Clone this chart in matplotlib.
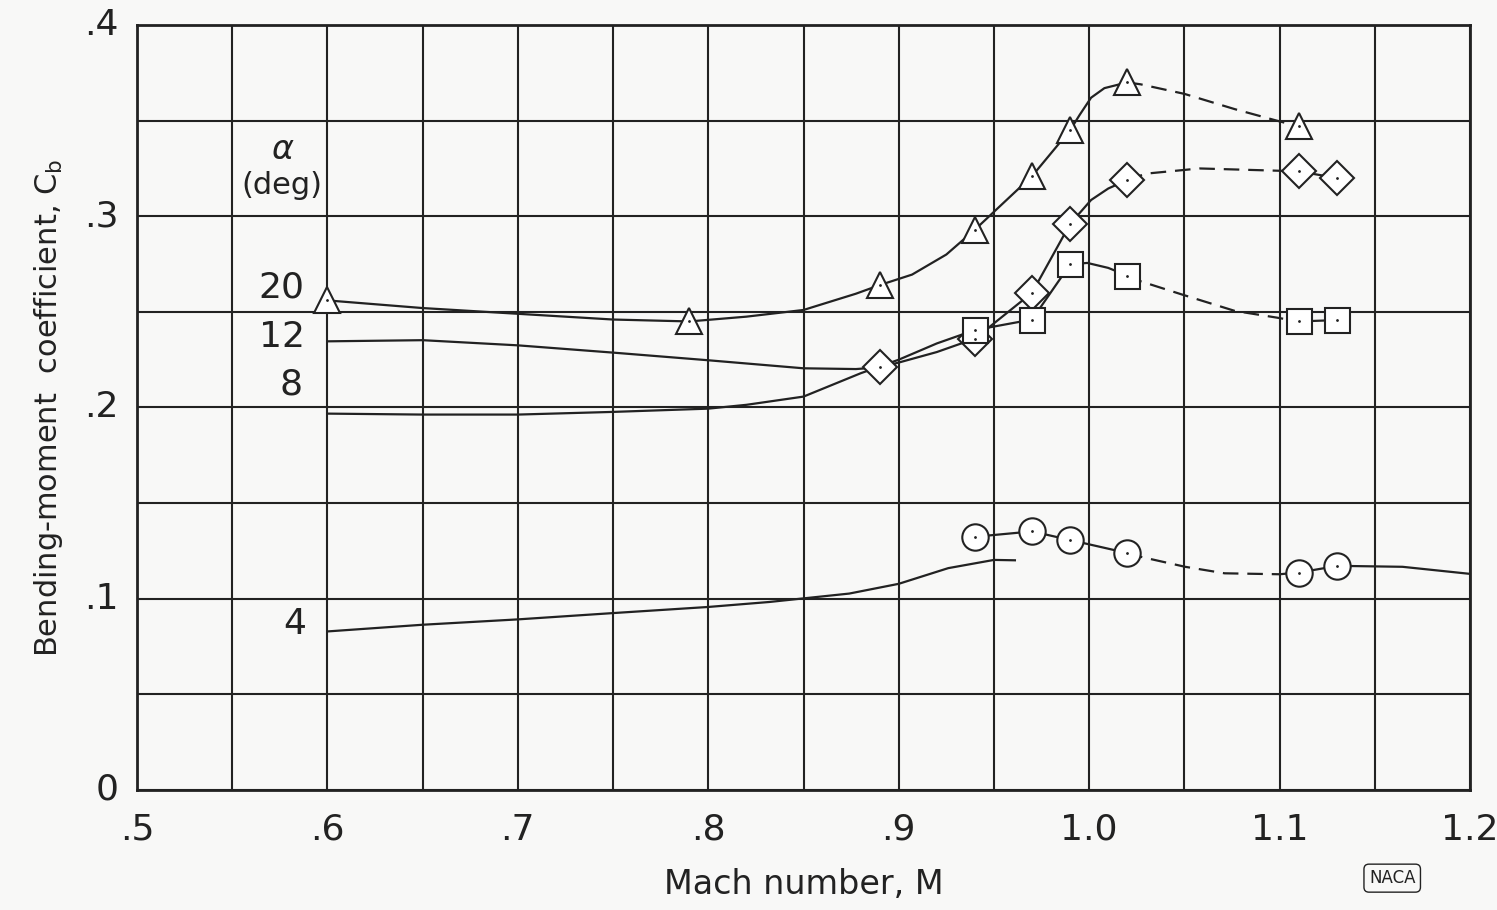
import matplotlib
matplotlib.use("Agg")
import matplotlib.pyplot as plt

# Mach number / bending-moment coefficient
# alpha = 20 deg (triangles)
m20 = [0.6, 0.79, 0.89, 0.94, 0.97, 0.99, 1.02, 1.11]
cb20 = [0.256, 0.245, 0.264, 0.293, 0.321, 0.345, 0.370, 0.347]
m20_line = [0.6, 0.65, 0.70, 0.75, 0.79, 0.82, 0.85, 0.8775, 0.89, 0.907,
            0.925, 0.94, 0.97, 0.99, 0.995, 1.001, 1.008, 1.02]
cb20_line = [0.256, 0.252, 0.249, 0.246, 0.245, 0.2475, 0.251, 0.2595, 0.264,
             0.2695, 0.280, 0.293, 0.321, 0.345, 0.353, 0.362, 0.367, 0.370]
m20_dash = [1.02, 1.027, 1.05, 1.0765, 1.0985, 1.11]
cb20_dash = [0.370, 0.369, 0.364, 0.356, 0.350, 0.347]

# alpha = 12 deg (diamonds)
m12 = [0.89, 0.94, 0.97, 0.99, 1.02, 1.11, 1.13]
cb12 = [0.221, 0.236, 0.260, 0.296, 0.319, 0.3235, 0.320]
m12_line = [0.6, 0.65, 0.7, 0.75, 0.8, 0.85, 0.8775, 0.89, 0.9, 0.92, 0.94,
            0.97, 0.99, 1.001, 1.01, 1.02]
cb12_line = [0.2346, 0.2352, 0.2325, 0.2287, 0.2247, 0.2205, 0.2201, 0.221,
             0.2235, 0.229, 0.236, 0.260, 0.296, 0.3085, 0.3145, 0.319]
m12_dash = [1.02, 1.03, 1.058, 1.11]
cb12_dash = [0.319, 0.3223, 0.325, 0.3235]
m12_end = [1.11, 1.13]
cb12_end = [0.3235, 0.320]

# alpha = 8 deg (squares)
m8 = [0.94, 0.97, 0.99, 1.02, 1.11, 1.13]
cb8 = [0.2405, 0.246, 0.2748, 0.269, 0.245, 0.2457]
m8_line = [0.6, 0.65, 0.7, 0.75, 0.8, 0.82, 0.85, 0.88, 0.9, 0.92, 0.94,
           0.97, 0.99, 0.999, 1.01, 1.02]
cb8_line = [0.1968, 0.1963, 0.1963, 0.1977, 0.1994, 0.2014, 0.2057, 0.2179,
            0.225, 0.2335, 0.2405, 0.246, 0.2748, 0.2756, 0.273, 0.269]
m8_dash = [1.02, 1.027, 1.049, 1.0765, 1.0985, 1.11]
cb8_dash = [0.269, 0.266, 0.259, 0.2505, 0.247, 0.245]
m8_end = [1.11, 1.13]
cb8_end = [0.245, 0.2457]

# alpha = 4 deg (circles)
m4 = [0.94, 0.97, 0.99, 1.02, 1.11, 1.13]
cb4 = [0.1324, 0.1352, 0.1307, 0.1239, 0.1137, 0.1171]
m4_low = [0.6, 0.65, 0.7, 0.75, 0.8, 0.832, 0.874, 0.9, 0.926, 0.95, 0.961]
cb4_low = [0.0829, 0.0864, 0.0892, 0.0925, 0.0957, 0.0983, 0.1027, 0.1078,
           0.1160, 0.1203, 0.1201]
m4_dash = [1.02, 1.0276, 1.0504, 1.0711, 1.1, 1.11]
cb4_dash = [0.1239, 0.1218, 0.1167, 0.1133, 0.1128, 0.1137]
m4_end = [1.11, 1.13, 1.1375, 1.1645, 1.2]
cb4_end = [0.1137, 0.1171, 0.1171, 0.1167, 0.113]

alpha_labels = ["20", "12", "8", "4"]
xticks = [0.5, 0.6, 0.7, 0.8, 0.9, 1.0, 1.1, 1.2]
xticklabels = [".5", ".6", ".7", ".8", ".9", "1.0", "1.1", "1.2"]
yticks = [0, 0.1, 0.2, 0.3, 0.4]
yticklabels = ["0", ".1", ".2", ".3", ".4"]

plt.rcParams['font.family'] = ['DejaVu Sans']
bg = '#f8f8f7'
ink = '#222222'

fig = plt.figure(figsize=(14.97, 9.10), dpi=100, facecolor=bg)
ax = fig.add_axes([0.0915, 0.1319, 0.8905, 0.8406], facecolor=bg)

lw = 1.6
dash = (0, (7, 4))

# faired curves
ax.plot(m20_line, cb20_line, color=ink, lw=lw, zorder=3)
ax.plot(m20_dash, cb20_dash, color=ink, lw=lw, ls=dash, zorder=3)
ax.plot(m12_line, cb12_line, color=ink, lw=lw, zorder=3)
ax.plot(m12_dash, cb12_dash, color=ink, lw=lw, ls=dash, zorder=3)
ax.plot(m12_end, cb12_end, color=ink, lw=lw, zorder=3)
ax.plot(m8_line, cb8_line, color=ink, lw=lw, zorder=3)
ax.plot(m8_dash, cb8_dash, color=ink, lw=lw, ls=dash, zorder=3)
ax.plot(m8_end, cb8_end, color=ink, lw=lw, zorder=3)
ax.plot(m4_low, cb4_low, color=ink, lw=lw, zorder=3)
ax.plot(m4[:4], cb4[:4], color=ink, lw=lw, zorder=3)
ax.plot(m4_dash, cb4_dash, color=ink, lw=lw, ls=dash, zorder=3)
ax.plot(m4_end, cb4_end, color=ink, lw=lw, zorder=3)

# open symbols with a centre dot
for m, cb, mk, ms in [(m20, cb20, '^', 19), (m12, cb12, 'D', 17.5),
                      (m8, cb8, 's', 18), (m4, cb4, 'o', 19)]:
    ax.plot(m, cb, ls='none', marker=mk, ms=ms, mfc='white', mec=ink,
            mew=1.5, zorder=5)
    ax.plot(m, cb, ls='none', marker='.', ms=2, color=ink, zorder=6)

ax.set_xlim(0.5, 1.2)
ax.set_ylim(0, 0.4)
ax.set_xticks([0.5 + 0.05 * i for i in range(15)])
ax.set_yticks([0.05 * i for i in range(9)])
ax.grid(True, color=ink, lw=1.5)
ax.tick_params(length=0, labelbottom=False, labelleft=False)
for s in ax.spines.values():
    s.set_color(ink)
    s.set_linewidth(2)

# tick labels drawn as text so only every other grid line is labelled
for x, t in zip(xticks, xticklabels):
    ax.text(x, -0.012, t, ha='center', va='top', fontsize=26, color=ink)
for y, t in zip(yticks, yticklabels):
    ax.text(0.4905, y, t, ha='right', va='center', fontsize=26, color=ink)

ax.set_xlabel("Mach number, M", fontsize=24, color=ink, labelpad=56)
ax.set_ylabel("Bending-moment  coefficient, C$_\\mathregular{b}$",
              fontsize=22, color=ink, labelpad=52)

# alpha labels
ax.text(0.576, 0.335, "α", ha='center', va='center', fontsize=24,
        color=ink, style='italic')
ax.text(0.576, 0.316, "(deg)", ha='center', va='center', fontsize=22,
        color=ink)
for x, y, t in zip([0.576, 0.576, 0.581, 0.583], [0.2625, 0.237, 0.212, 0.087],
                   alpha_labels):
    ax.text(x, y, t, ha='center', va='center', fontsize=26, color=ink)

# NACA mark
fig.text(0.93, 0.035, "NACA", ha='center', va='center', fontsize=12,
         color=ink, bbox=dict(boxstyle='round,pad=0.3', fc='none', ec=ink,
                              lw=1))

fig.savefig("out.png", dpi=100, facecolor=bg)
